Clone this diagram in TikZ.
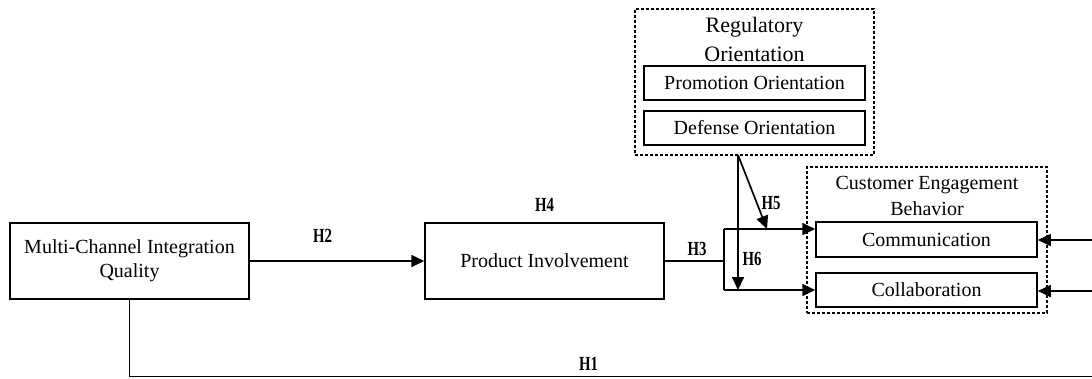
\documentclass[tikz,border=0pt]{standalone}
\usepackage{fontspec}
\setmainfont{Liberation Serif}
\newfontfamily\hfont{Liberation Serif}[FakeStretch=0.74]
\usetikzlibrary{arrows.meta}
\tikzset{
  box/.style={draw, line width=1.5pt, rectangle, inner sep=0pt, align=center, font=\fontsize{20}{24}\selectfont},
  dbox/.style={draw, line width=1.2pt, dash pattern=on 3pt off 2pt, rectangle, inner sep=0pt},
  ttl/.style={align=center, inner sep=0pt},
  hyp/.style={inner sep=0pt, font=\hfont\bfseries\fontsize{20}{22}\selectfont},
  conn/.style={line width=1.7pt},
  arr/.style={conn, -{Triangle[length=13pt,width=12pt]}}
}
\begin{document}
\begin{tikzpicture}[x=1pt,y=-1pt]
\useasboundingbox (0,0) rectangle (1092,378);
\clip (0,0) rectangle (1092,378);
% boxes
\node[box, minimum width=239pt, minimum height=76pt] (mc) at (129.5,261) {Multi-Channel Integration\\Quality};
\node[box, minimum width=239pt, minimum height=76pt] (pi) at (544.5,261) {Product Involvement};
\node[dbox, minimum width=239pt, minimum height=146pt] (ro) at (754.5,82) {};
\node[ttl, font=\fontsize{22}{29}\selectfont] (rot) at (754.5,39) {Regulatory\\Orientation};
\node[box, minimum width=221pt, minimum height=34pt] (pro) at (754.5,83) {Promotion Orientation};
\node[box, minimum width=221pt, minimum height=34pt] (def) at (754.5,128) {Defense Orientation};
\node[dbox, minimum width=240pt, minimum height=146pt] (ceb) at (927,240) {};
\node[ttl, font=\fontsize{20}{26}\selectfont] (cebt) at (927,196) {Customer Engagement\\Behavior};
\node[box, minimum width=221pt, minimum height=35pt] (comm) at (926.5,239.5) {Communication};
\node[box, minimum width=221pt, minimum height=34pt] (coll) at (926.5,290) {Collaboration};
% coordinates
\coordinate (bj) at (724,261);
\coordinate (bt) at (724,229);
\coordinate (bb) at (724,290);
\coordinate (ds) at (738,155);
\coordinate (h5t) at (767,229);
\coordinate (rc) at (1100,240);
\coordinate (rl) at (1100,291);
\coordinate (bl) at (129.5,376.5);
\coordinate (br) at (1100,376.5);
% connectors
\draw[arr] (mc.east) -- (pi.west);
\draw[conn] (pi.east) -- (bj);
\draw[conn] (bt) -- (bb);
\draw[arr] (bt) -- (bt -| comm.west);
\draw[arr] (bb) -- (coll.west);
\draw[arr] (ds) -- (ds |- bb);
\draw[arr] (ds) -- (h5t);
\draw[arr] (rc) -- (rc -| comm.east);
\draw[arr] (rl) -- (rl -| coll.east);
\draw[conn] (mc.south) -- (bl) -- (br);
% labels
\node[hyp] (h1) at (588.5,363.5) {H1};
\node[hyp] (h2) at (322.5,235.5) {H2};
\node[hyp] (h3) at (697,249) {H3};
\node[hyp] (h4) at (544.5,204.5) {H4};
\node[hyp] (h5) at (771,203) {H5};
\node[hyp] (h6) at (752,259) {H6};
\end{tikzpicture}
\end{document}
